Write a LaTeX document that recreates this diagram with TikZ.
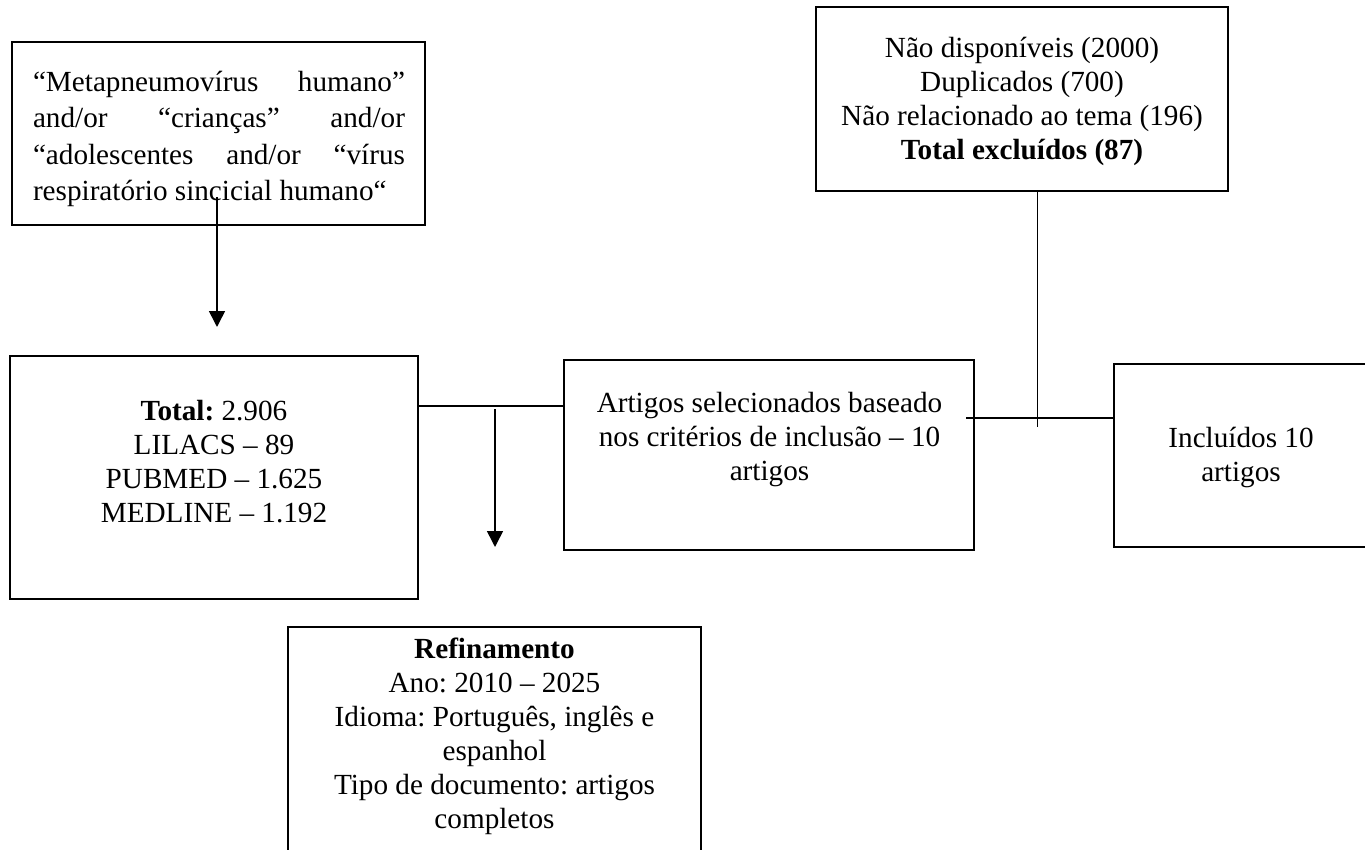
\documentclass[tikz,border=0pt]{standalone}
\usepackage{fontspec}
\setmainfont{Liberation Serif}
\usetikzlibrary{arrows.meta}
\frenchspacing

\tikzset{
  box/.style={draw, line width=1pt, inner sep=0pt},
  txt/.style={align=center, inner sep=0pt, font=\fontsize{14.6}{17}\selectfont},
  link/.style={line width=0.8pt},
  arr/.style={line width=0.8pt, -{Triangle[width=8pt,length=8pt]}}
}

\begin{document}
\begin{tikzpicture}[x=0.5pt, y=-0.5pt]
  \useasboundingbox (0,0) rectangle (1365,850);
  \clip (0,0) rectangle (1365,850);
  % boxes
  \node[box, minimum width=206.5pt, minimum height=91.5pt] (query) at (218.5,133.5) {};
  \node[box, minimum width=204pt, minimum height=121.5pt] (total) at (214,477.5) {};
  \node[box, minimum width=204.75pt, minimum height=94.75pt] (crit) at (769,455) {};
  \node[box, minimum width=206.2pt, minimum height=92pt] (excl) at (1022,99) {};
  \node[box, minimum width=127pt, minimum height=91.5pt] (incl) at (1241,455) {};
  \node[box, minimum width=206.5pt, minimum height=121.5pt] (refine) at (494.5,748.5) {};
  % texts
  \node[txt, align=justify, text width=186pt, font=\fontsize{14.6}{18.3}\selectfont] (query-txt) at (219,139)
    {“Metapneumovírus humano”\linebreak and/or “crianças” and/or\linebreak “adolescentes and/or “vírus\linebreak respiratório sincicial humano“};
  \node[txt] (total-txt) at (214,462)
    {\textbf{Total:} 2.906\\LILACS – 89\\PUBMED – 1.625\\MEDLINE – 1.192};
  \node[txt] (crit-txt) at (769.5,440)
    {Artigos selecionados baseado\\nos critérios de inclusão – 10\\artigos};
  \node[txt] (excl-txt) at (1022,101)
    {Não disponíveis (2000)\\Duplicados (700)\\Não relacionado ao tema (196)\\\textbf{Total excluídos (87)}};
  \node[txt] (incl-txt) at (1241,457)
    {Incluídos 10\\artigos};
  \node[txt] (refine-txt) at (494.5,736.5)
    {\textbf{Refinamento}\\Ano: 2010 – 2025\\Idioma: Português, inglês e\\espanhol\\Tipo de documento: artigos\\completos};
  % connectors
  \coordinate (query-out) at (217,197);
  \coordinate (query-end) at (217,327);
  \coordinate (refine-out) at (495,409);
  \coordinate (refine-end) at (495,547);
  \coordinate (excl-end) at (1037.5,427);
  \coordinate (crit-out) at (966,418);
  \draw[arr] (query-out) -- (query-end);
  \draw[link] (total.east |- 0,406) -- (crit.west |- 0,406);
  \draw[arr] (refine-out) -- (refine-end);
  \draw[link] (excl.south -| excl-end) -- (excl-end);
  \draw[link] (crit-out) -- (incl.west |- crit-out);
\end{tikzpicture}
\end{document}
